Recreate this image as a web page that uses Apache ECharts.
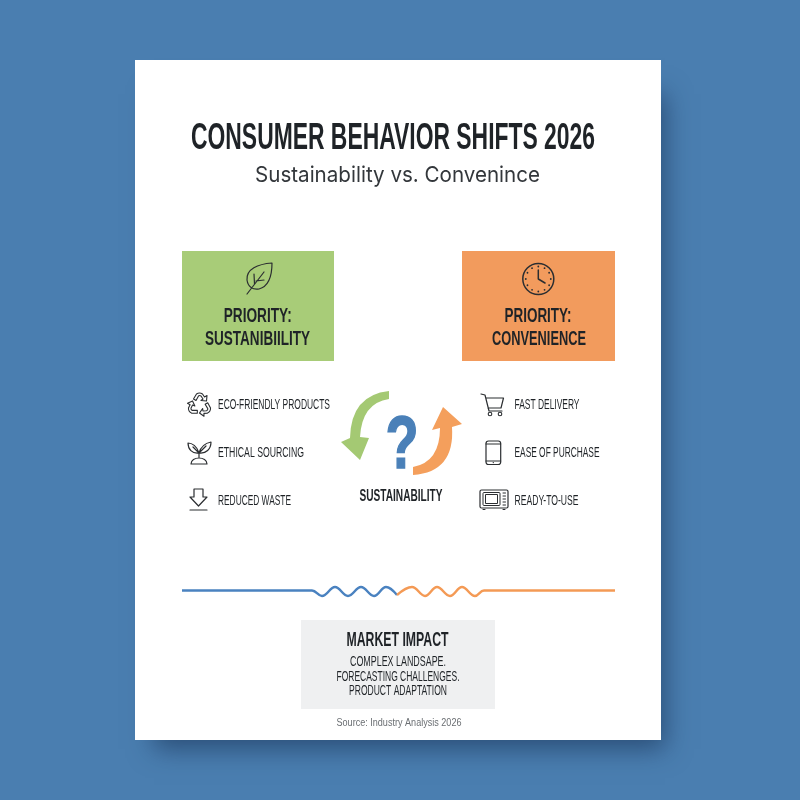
<!DOCTYPE html>
<html>
<head>
<meta charset="utf-8">
<style>html,body{margin:0;padding:0;background:#4a7eb0}#main{width:800px;height:800px}</style>
<script src="https://cdn.jsdelivr.net/npm/echarts@6/dist/echarts.min.js"></script>
</head>
<body>
<div id="main"></div>
<script>
// texts, spelled as on the poster
var titleText = 'CONSUMER BEHAVIOR SHIFTS 2026';
var subtitleText = 'Sustainability vs. Convenince';
var leftHeading = ['PRIORITY:', 'SUSTANIBIILITY'];
var rightHeading = ['PRIORITY:', 'CONVENIENCE'];
var leftItems = ['ECO-FRIENDLY PRODUCTS', 'ETHICAL SOURCING', 'REDUCED WASTE'];
var rightItems = ['FAST DELIVERY', 'EASE OF PURCHASE', 'READY-TO-USE'];
var centerLabel = 'SUSTAINABILITY';
var marketTitle = 'MARKET IMPACT';
var marketLines = ['COMPLEX LANDSAPE.', 'FORECASTING CHALLENGES.', 'PRODUCT ADAPTATION'];
var sourceText = 'Source: Industry Analysis 2026';

// wavy divider
var waveBlueX = [182, 240, 300, 312, 322, 335, 348, 361, 374, 386, 397];
var waveBlueY = [590.5, 590.5, 590.5, 590.5, 596, 587, 596, 587, 596, 587, 595];
var waveOrangeX = [397, 412, 425, 437, 450, 462, 475, 484, 496, 560, 615];
var waveOrangeY = [595, 587, 596, 587, 596, 587, 596, 590.5, 590.5, 590.5, 590.5];

var SANS = '"Liberation Sans",sans-serif';
var INK = '#1f2327';
var ICON = '#2b2e31';

var chart = echarts.init(document.getElementById('main'), null, { renderer: 'canvas' });
var measure = document.createElement('canvas').getContext('2d');

var pathCount = 0;
function pathEl(d, style, extra) {
  var name = 'posterPath' + (pathCount++);
  echarts.graphic.registerShape(name, echarts.graphic.extendPath(d, {}));
  return Object.assign({ type: name, silent: true, style: style }, extra || {});
}
function iconPath(d, lw, extra) {
  return pathEl(d, { fill: 'none', stroke: ICON, lineWidth: lw || 1.2, lineJoin: 'round', lineCap: 'round' }, extra);
}
// no condensed font is installed, so the text is squeezed to the width it has on the poster
function label(text, x, y, size, fitWidth, opt) {
  opt = opt || {};
  var font = (opt.weight || 'bold') + ' ' + size + 'px ' + (opt.family || SANS);
  measure.font = font;
  var style = {
    text: text, fill: opt.color || INK, font: font,
    textAlign: opt.align || 'center', textVerticalAlign: 'middle'
  };
  if (opt.stroke) {
    style.stroke = opt.color;
    style.lineWidth = opt.stroke;
  }
  return {
    type: 'text', silent: true, x: x, y: y,
    scaleX: fitWidth ? fitWidth / measure.measureText(text).width : 1,
    style: style
  };
}
function box(x, y, w, h, color) {
  return { type: 'rect', silent: true, shape: { x: x, y: y, width: w, height: h }, style: { fill: color } };
}

var els = [];
// the shadow comes from a smaller sheet behind the page, so it only shows right and below
els.push({
  type: 'rect', silent: true, shape: { x: 150, y: 85, width: 511, height: 655 },
  style: { fill: '#3f6f9e', shadowBlur: 24, shadowOffsetX: 4, shadowOffsetY: 9, shadowColor: 'rgba(25,50,85,0.62)' }
});
els.push(box(135, 60, 526, 680, '#ffffff'));
els.push(label(titleText, 393, 139, 36, 404));
els.push(label(subtitleText, 397.5, 175, 22, 285, { family: 'Inter,"Liberation Sans",sans-serif', weight: 'normal', color: '#33373b' }));

els.push(box(182, 251, 152, 110, '#a8cc78'));
els.push(box(462, 251, 153, 110, '#f29b5d'));
els.push(label(leftHeading[0], 257.7, 316, 20, 68));
els.push(label(leftHeading[1], 257.5, 339, 20, 105));
els.push(label(rightHeading[0], 538, 316, 20, 67));
els.push(label(rightHeading[1], 539, 339, 20, 94));

// leaf
els.push(iconPath('M272,263 C258,264 246,269 247,280 C248,287 253,290 259,289 C270,286 272,274 272,263 Z M247,294 L264,272 M254.5,284 L254,274 M256,281 L264,280', 1.2));
// clock
els.push({ type: 'circle', silent: true, shape: { cx: 538.3, cy: 279, r: 15.5 }, style: { fill: 'none', stroke: ICON, lineWidth: 1.5 } });
els.push(iconPath('M538.3,270 L538.3,279 L545,283', 1.5));
for (var h = 0; h < 12; h++) {
  var a = h * Math.PI / 6;
  els.push({ type: 'circle', silent: true, shape: { cx: 538.3 + 12.5 * Math.sin(a), cy: 279 - 12.5 * Math.cos(a), r: 0.9 }, style: { fill: ICON } });
}

// feature lists
var leftWidths = [112, 86, 73];
var rightWidths = [65, 85, 64];
leftItems.forEach(function (t, i) { els.push(label(t, 218, 405 + i * 48, 14, leftWidths[i], { align: 'left', weight: 'normal' })); });
rightItems.forEach(function (t, i) { els.push(label(t, 514.5, 405 + i * 48, 14, rightWidths[i], { align: 'left', weight: 'normal' })); });

// recycle, one arrow turned three times
[0, 1, 2].forEach(function (k) {
  els.push(iconPath('M-6,-6 L-3,-11 Q0,-13 3,-11 L5,-8 L7.5,-9.5 L7,-4 L1.5,-4.5 L3.5,-6 L1.5,-9 Q0,-10 -1,-9 L-3.5,-4.5 Z', 1.1,
    { x: 199.5, y: 405, rotation: k * 2 * Math.PI / 3 }));
});
// sprout
els.push(iconPath('M199,453 C197,446 192,443 188,443 C188,449 192,454 199,453 Z M199,453 C201,446 206,443 211,442 C211,449 206,454 199,453 Z M199,453 L199,458 M191,464 C191,460 195,458 199,458 C203,458 207,460 207,464 Z M193,447 L199,453 M206,446 L199,453', 1.2));
// reduce arrow
els.push(iconPath('M194,489 L203,489 L203,497 L207,497 L198.5,506 L190,497 L194,497 Z M190,510 L207,510', 1.2));
// cart
els.push(iconPath('M481,394 L485,395 L489,411 L502,411 M486,398 L503.5,398 L501,408 L488,408', 1.2));
els.push({ type: 'circle', silent: true, shape: { cx: 490, cy: 414, r: 1.8 }, style: { fill: 'none', stroke: ICON, lineWidth: 1.1 } });
els.push({ type: 'circle', silent: true, shape: { cx: 500, cy: 414, r: 1.8 }, style: { fill: 'none', stroke: ICON, lineWidth: 1.1 } });
// phone
els.push({ type: 'rect', silent: true, shape: { x: 486, y: 441, width: 14.7, height: 23.5, r: 2.5 }, style: { fill: 'none', stroke: ICON, lineWidth: 1.2 } });
els.push(iconPath('M486,444 L500.7,444 M486,461 L500.7,461', 1));
els.push({ type: 'circle', silent: true, shape: { cx: 493.3, cy: 462.6, r: 0.7 }, style: { fill: ICON } });
// microwave
els.push({ type: 'rect', silent: true, shape: { x: 480, y: 490, width: 28, height: 18, r: 1.5 }, style: { fill: 'none', stroke: ICON, lineWidth: 1.2 } });
els.push({ type: 'rect', silent: true, shape: { x: 483, y: 492.5, width: 17, height: 13, r: 1 }, style: { fill: 'none', stroke: ICON, lineWidth: 1 } });
els.push({ type: 'rect', silent: true, shape: { x: 485.5, y: 494.5, width: 12, height: 9 }, style: { fill: 'none', stroke: ICON, lineWidth: 1 } });
els.push(iconPath('M503,493 L505.5,493 M503,496 L505.5,496 M503,499 L505.5,499 M503,502 L505.5,502 M503,505 L505.5,505 M483,509.5 L485,509.5 M503,509.5 L505,509.5', 1));

// swap arrows and question mark
els.push(pathEl('M389,391 Q351,395 350,438 L341,442 L360,460 L369,438 L360,437 Q362,403 389,399 Z', { fill: '#a4c973' }));
els.push(pathEl('M413,467 Q440,462 440,428 L432,430 L443,407 L462,424 L452,427 Q455,472 413,475 Z', { fill: '#f49f5c' }));
els.push(label('?', 402, 447.5, 74, 33, { color: '#4a80b8', stroke: 1.6 }));
els.push(label(centerLabel, 401, 496.5, 16.5, 83));

// market box
els.push(box(301, 620, 194, 89, '#eff0f1'));
els.push(label(marketTitle, 397.5, 640.5, 20, 102));
var marketWidths = [96, 123, 98];
var marketY = [662.5, 677, 691.5];
marketLines.forEach(function (t, i) { els.push(label(t, 398, marketY[i], 14, marketWidths[i], { weight: 'normal' })); });
els.push(label(sourceText, 399, 723, 10, 125, { weight: 'normal', color: '#6b6f73' }));

function pairs(xs, ys) { return xs.map(function (x, i) { return [x, ys[i]]; }); }

chart.setOption({
  backgroundColor: '#4a7eb0',
  animation: false,
  graphic: els,
  grid: { left: 182, width: 434, top: 580, height: 20 },
  xAxis: { type: 'value', min: 182, max: 616, show: false },
  yAxis: { type: 'value', min: 580, max: 600, inverse: true, show: false },
  series: [
    { type: 'line', data: pairs(waveBlueX, waveBlueY), smooth: 0.4, showSymbol: false, lineStyle: { color: '#4a82c0', width: 2.4 } },
    { type: 'line', data: pairs(waveOrangeX, waveOrangeY), smooth: 0.4, showSymbol: false, lineStyle: { color: '#f49a55', width: 2.4 } }
  ]
});
</script>
</body>
</html>
